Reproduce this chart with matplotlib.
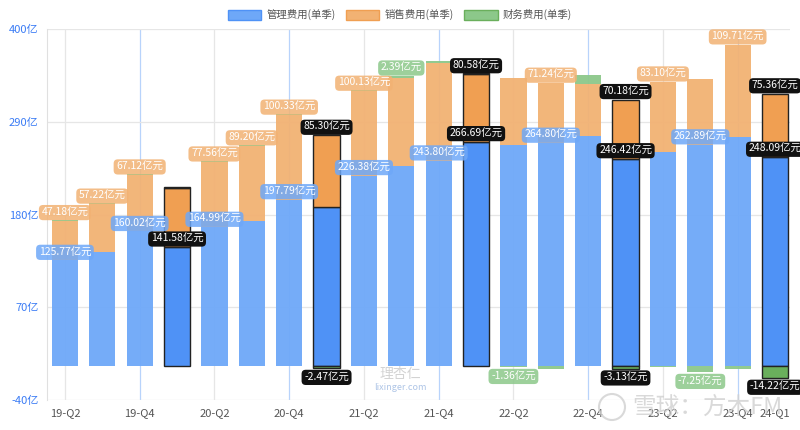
import matplotlib
matplotlib.use("Agg")
import matplotlib.pyplot as plt
from matplotlib.patches import Patch, Ellipse

plt.rcParams['font.family'] = ['Noto Sans CJK SC', 'DejaVu Sans']

# 季度
quarters = ['19-Q2', '19-Q3', '19-Q4', '20-Q1', '20-Q2', '20-Q3', '20-Q4',
            '21-Q1', '21-Q2', '21-Q3', '21-Q4', '22-Q1', '22-Q2', '22-Q3',
            '22-Q4', '23-Q1', '23-Q2', '23-Q3', '23-Q4', '24-Q1']
# 管理费用(单季), 亿元
mgmt = [125.77, 135.3, 160.02, 141.58, 164.99, 172.5, 197.79, 188.9,
        226.38, 238.2, 243.80, 266.69, 262.2, 264.80, 273.8, 246.42,
        254.4, 262.89, 271.8, 248.09]
# 销售费用(单季)
sales = [47.18, 57.22, 67.12, 70.3, 77.56, 89.20, 100.33, 85.30,
         100.13, 104.0, 116.5, 80.58, 79.5, 71.24, 61.4, 70.18,
         83.10, 78.6, 109.71, 75.36]
# 财务费用(单季)
fin = [1.0, 1.0, 1.2, 0.8, 1.0, 1.0, 1.5, -2.47,
       1.5, 2.39, 1.5, 0.8, -1.36, -3.5, 10.2, -3.13,
       -1.0, -7.25, -3.5, -14.22]

# 显示标签的柱
mgmt_lbl = [0, 2, 3, 4, 6, 8, 10, 11, 13, 15, 17, 19]
sales_lbl = [0, 1, 2, 4, 5, 6, 7, 8, 11, 13, 15, 16, 18, 19]
fin_lbl = [7, 9, 12, 15, 17, 19]
highlight = [3, 7, 11, 15, 19]

blue, blue_hl = '#6ea8f8', '#4f92f6'
orange, orange_hl = '#f2b273', '#f09f52'
green, green_hl = '#8cc88a', '#6aaf5c'

fig = plt.figure(figsize=(8, 4.3), dpi=100)
ax = fig.add_axes([47 / 800, 30 / 430, 743 / 800, 370.7 / 430])

x = list(range(len(quarters)))
w = 0.7

# 竖线
for i in range(0, len(quarters) - 1, 2):
    c = '#b8d3fb' if quarters[i].endswith('Q4') else '#e6e6e6'
    ax.axvline(i, color=c, lw=0.9, zorder=0)

for i in x:
    hl = i in highlight
    ec = '#222222' if hl else 'none'
    lw = 1.0 if hl else 0
    a = 1.0 if hl else 0.95
    ax.bar(i, mgmt[i], w, color=blue_hl if hl else blue, alpha=a,
           edgecolor=ec, linewidth=lw, zorder=2)
    ax.bar(i, sales[i], w, bottom=mgmt[i], color=orange_hl if hl else orange,
           alpha=a, edgecolor=ec, linewidth=lw, zorder=2)
    if fin[i] >= 0:
        ax.bar(i, fin[i], w, bottom=mgmt[i] + sales[i],
               color=green_hl if hl else green, alpha=a, edgecolor=ec,
               linewidth=lw, zorder=2)
    else:
        ax.bar(i, fin[i], w, color=green_hl if hl else green, alpha=a,
               edgecolor=ec, linewidth=lw, zorder=2)


def label(i, y, val, color, below=False):
    hl = i in highlight
    fc = '#111111' if hl else color
    ax.annotate(f'{val:.2f}亿元', (i, y), xytext=(0, -9 if below else 8),
                textcoords='offset pixels', ha='center', va='center',
                fontsize=7.5, color='white', zorder=5,
                bbox=dict(boxstyle='round,pad=0.25,rounding_size=0.4',
                          fc=fc, ec='none', alpha=1.0 if hl else 0.85))


for i in mgmt_lbl:
    label(i, mgmt[i], mgmt[i], blue)
for i in sales_lbl:
    label(i, mgmt[i] + sales[i], sales[i], orange)
for i in fin_lbl:
    if fin[i] >= 0:
        label(i, mgmt[i] + sales[i] + fin[i], fin[i], green)
    else:
        label(i, fin[i], fin[i], green, below=True)

ax.set_ylim(-40, 400)
ax.set_yticks([-40, 70, 180, 290, 400])
ax.set_yticklabels([f'{v}亿' for v in [-40, 70, 180, 290, 400]],
                   color='#3b7cf5', fontsize=8)
ax.set_xlim(-0.48, 19.4)
xt = list(range(0, len(quarters), 2)) + [len(quarters) - 1]
ax.set_xticks(xt)
ax.set_xticklabels([quarters[i] for i in xt], color='#555555', fontsize=8)
ax.tick_params(length=0, pad=6)
ax.grid(axis='y', color='#e6e6e6', lw=0.9, zorder=0)
ax.set_axisbelow(True)
for s in ['top', 'right', 'bottom']:
    ax.spines[s].set_visible(False)
ax.spines['left'].set_color('#e0e0e0')

handles = [Patch(fc=blue, ec='#4f92f6', label='管理费用(单季)'),
           Patch(fc=orange, ec='#f09f52', label='销售费用(单季)'),
           Patch(fc=green, ec='#6aaf5c', label='财务费用(单季)')]
fig.legend(handles=handles, loc='upper center', bbox_to_anchor=(0.5, 1.0),
           ncol=3, frameon=False, fontsize=7.5, handlelength=3.2,
           handleheight=1.1, columnspacing=1.0, handletextpad=0.5,
           labelcolor='#555555')

# 水印
fig.text(400 / 800, 1 - 374 / 430, '理杏仁', ha='center', va='center',
         fontsize=10, color='#c8c8c8', alpha=0.8)
fig.text(400 / 800, 1 - 388 / 430, 'lixinger.com', ha='center', va='center',
         fontsize=6.5, color='#9ab6e0', alpha=0.8)
fig.add_artist(Ellipse((612 / 800, 1 - 407 / 430), 26 / 800, 26 / 430,
                       transform=fig.transFigure, fill=False,
                       ec='#d0d0d0', lw=1.5, alpha=0.8))
fig.text(632 / 800, 1 - 407 / 430, '雪球：方木FM', ha='left', va='center',
         fontsize=17, color='#d0d0d0', alpha=0.8)

fig.savefig('out.png', dpi=100)
